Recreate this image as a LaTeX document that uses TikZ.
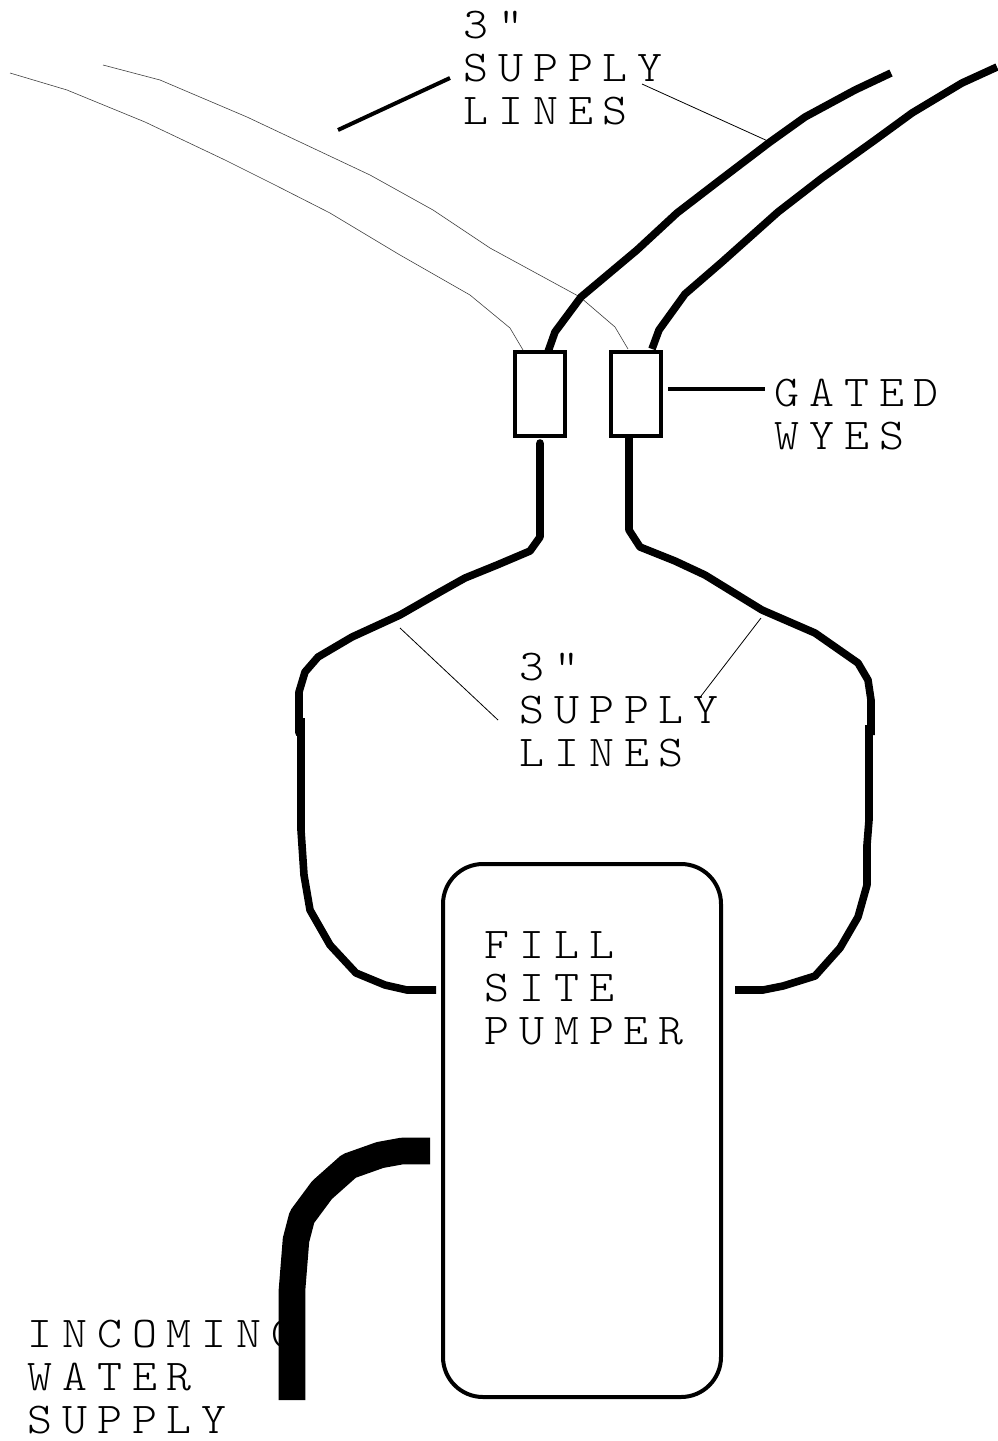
\documentclass[tikz,border=0pt]{standalone}
\usepackage{fontspec}
\usepackage{xcolor}
\usetikzlibrary{positioning}
\newfontfamily\labelfont[LetterSpace=22.6,FakeStretch=1.08]{Latin Modern Mono Light}
\begin{document}
\begin{tikzpicture}[x=0.5pt,y=-0.5pt,
                    every node/.style={font=\labelfont\fontsize{22}{21.5}\selectfont},
                    lbl/.style={anchor=north west,inner sep=0pt,align=left},
                    wye/.style={draw,line width=2.2pt,minimum width=25pt,minimum height=42pt,inner sep=0pt},
                    hose/.style={line width=3.8pt,line join=round},
                    dryhose/.style={line width=0.3pt,black!75},
                    leader/.style={line width=0.4pt},
                    pointer/.style={line width=2pt}]
  \useasboundingbox (0,0) rectangle (997,1441);
  \node[lbl] (lblTop) at (463,11) {3"\\SUPPLY\\LINES};
  \node[lbl] (lblMid) at (519,653) {3"\\SUPPLY\\LINES};
  \node[lbl] (lblGated) at (774,379) {GATED\\WYES};
  \node[lbl] (lblPumper) at (484,931) {FILL\\SITE\\PUMPER};
  \node[lbl] (lblIn) at (27,1320) {INCOMING\\WATER\\SUPPLY};
  \node[wye] (wyeL) at (540,394) {};
  \node[wye] (wyeR) at (636,394) {};
  \node[draw,line width=2pt,rounded corners=20pt,minimum width=139pt,minimum height=266.5pt,inner sep=0pt]
    (pumper) at (582,1130.5) {};
  \coordinate (tipL) at (891,73);
  \coordinate (tipR) at (997,67);
  \coordinate (inL) at (436,990);
  \coordinate (inR) at (735,990);
  \coordinate (feed) at (430,1151);
  \coordinate (feedEnd) at (292,1400);
  \draw[dryhose] (10,73)--(67,90)--(145,122)--(225,160)--(275,185)--(330,213)--(400,255)--(470,295)--(510,328)--(523,350);
  \draw[dryhose] (103,65)--(160,80)--(247,117)--(300,142)--(370,175)--(433,210)--(490,248)--(580,297)--(615,327)--(628,349);
  \draw[hose] ([xshift=4pt,yshift=-1pt]wyeL.north)--(555,332)--(581,297)--(637,250)--(677,213)--(720,180)--(770,142)--(805,117)--(855,90)--(tipL);
  \draw[hose] (652,349)--(659,330)--(685,294)--(722,262)--(778,212)--(822,178)--(875,140)--(912,113)--(962,83)--(tipR);
  \draw[hose,line cap=round] (540,443)--(540,537)--(530,551)--(497,565)--(465,578)--(440,592)--(400,615)--(352,637)--(318,657)--(305,672)--(299,692)--(299,733);
  \draw[hose] (301,718)--(301,830)--(304,875)--(310,910)--(330,945)--(356,973)--(385,985)--(407,990)--(inL);
  \draw[hose] (wyeR.south -| 629,436)--(629,530)--(640,547)--(675,561)--(705,575)--(762,610)--(815,633)--(858,663)--(868,680)--(871,700)--(871,735);
  \draw[hose] (869,725)--(869,820)--(867,845)--(867,885)--(858,917)--(840,948)--(815,976)--(783,986)--(763,990)--(inR);
  \draw[line width=13.3pt,line join=round] (feed)--(402,1151)--(380,1155)--(349,1166)--(322,1190)--(302,1217)--(296,1240)--(292,1290)--(feedEnd);
  \draw[pointer] (lblTop.west |- 0,78) ++(-13,0)--(338,130);
  \draw[leader] (642,84)--(770,142);
  \draw[pointer] (668,389)--(765,389);
  \draw[leader] (400,628)--(498,720);
  \draw[leader] (761,618)--(698,700);
\end{tikzpicture}
\end{document}
